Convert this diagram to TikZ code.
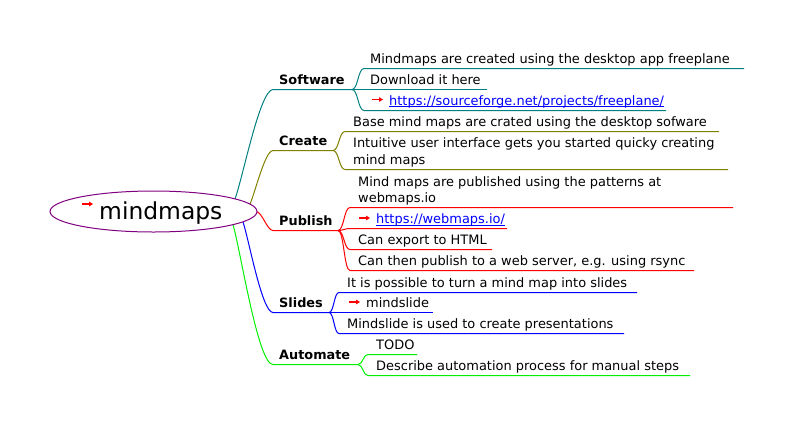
\documentclass[tikz,border=0pt]{standalone}
\usepackage{fontspec}
\setmainfont{DejaVu Sans}
\usetikzlibrary{shapes.geometric,arrows.meta}
\definecolor{cteal}{RGB}{0,128,128}
\definecolor{colive}{RGB}{128,128,0}
\definecolor{cred}{RGB}{255,0,0}
\definecolor{cblue}{RGB}{0,0,255}
\definecolor{cgreen}{RGB}{0,240,0}
\definecolor{cpurple}{RGB}{128,0,128}
\definecolor{linkblue}{RGB}{0,0,255}
\begin{document}
\begin{tikzpicture}[x=1bp,y=-1bp,
  txt/.style={anchor=base west, inner sep=0pt, font=\fontsize{13pt}{16.4pt}\selectfont, text=black, align=left},
  lbl/.style={txt, font=\fontsize{12.9pt}{16.4pt}\selectfont\bfseries},
  linktxt/.style={txt, text=linkblue},
  edge/.style={line width=1bp},
  icon/.style={cred, line width=1.3pt, -{Triangle[length=4pt,width=4.6pt]}},
  linkline/.style={linkblue, line width=0.9bp},
]
\useasboundingbox (0,0) rectangle (793,425);

% ---------- start points on root ----------
\coordinate (r1) at (235,199);
\coordinate (r2) at (250,204);
\coordinate (r3) at (256,211.5);
\coordinate (r4) at (243,222);
\coordinate (r5) at (233,224.6);

% ---------- branch labels ----------
\node[lbl] (sw) at (279,84) {Software};
\coordinate (sw-l) at (273,89.5); \coordinate (sw-r) at (352,89.5);
\node[lbl] (cr) at (279,145) {Create};
\coordinate (cr-l) at (273,150.5); \coordinate (cr-r) at (333,150.5);
\node[lbl] (pu) at (279,225) {Publish};
\coordinate (pu-l) at (273,230.5); \coordinate (pu-r) at (338,230.5);
\node[lbl] (sl) at (279,307) {Slides};
\coordinate (sl-l) at (273,312.5); \coordinate (sl-r) at (329,312.5);
\node[lbl] (au) at (279,359) {Automate};
\coordinate (au-l) at (273,364.5); \coordinate (au-r) at (358,364.5);

% ---------- root edges ----------
\draw[edge,cteal]  (r1) .. controls +(8,-22) and +(-13,0) .. (sw-l) -- (sw-r);
\draw[edge,colive] (r2) .. controls +(5,-11) and +(-8,0) .. (cr-l) -- (cr-r);
\draw[edge,cred]   (r3) .. controls +(6,0) and +(-6,0) .. (pu-l) -- (pu-r);
\draw[edge,cblue]  (r4) .. controls +(6,18) and +(-11,0) .. (sl-l) -- (sl-r);
\draw[edge,cgreen] (r5) .. controls +(8,28) and +(-15,0) .. (au-l) -- (au-r);

% ---------- root ----------
\node[ellipse, draw=cpurple, fill=white, line width=1bp, minimum width=207bp, minimum height=41bp, inner sep=0pt] (root) at (153.5,211.5) {};
\node[anchor=base west, inner sep=0pt, font=\fontsize{23.5pt}{28pt}\selectfont] (roottxt) at (99,219) {mindmaps};
\coordinate (ri-a) at (82,204); \coordinate (ri-b) at (93,204);
\draw[icon] (ri-a) -- (ri-b);

% ---------- Software children ----------
\node[txt] (a1) at (370,63) {Mindmaps are created using the desktop app freeplane};
\coordinate (a1-l) at (364,68.5); \coordinate (a1-r) at (744,68.5);
\node[txt] (a2) at (370,84) {Download it here};
\coordinate (a2-l) at (364,89.5); \coordinate (a2-r) at (487,89.5);
\node[linktxt] (a3) at (389,105) {https://sourceforge.net/projects/freeplane/};
\coordinate (a3-l) at (364,110.5); \coordinate (a3-r) at (666,110.5);
\coordinate (a3-ia) at (372,99.5); \coordinate (a3-ib) at (383,99.5);
\draw[icon] (a3-ia) -- (a3-ib);
\draw[linkline] ([yshift=-1.6pt]a3.base west) -- ([yshift=-1.6pt]a3.base east);
\draw[edge,cteal] (sw-r) .. controls +(6,0) and +(-6,0) .. (a1-l) -- (a1-r);
\draw[edge,cteal] (sw-r) -- (a2-l) -- (a2-r);
\draw[edge,cteal] (sw-r) .. controls +(6,0) and +(-6,0) .. (a3-l) -- (a3-r);

% ---------- Create children ----------
\node[txt] (b1) at (353,126) {Base mind maps are crated using the desktop sofware};
\coordinate (b1-l) at (345,131.5); \coordinate (b1-r) at (719,131.5);
\node[txt] (b2) at (353,164) {Intuitive user interface gets you started quicky creating\\mind maps};
\coordinate (b2-l) at (345,169.5); \coordinate (b2-r) at (728,169.5);
\draw[edge,colive] (cr-r) .. controls +(6,0) and +(-6,0) .. (b1-l) -- (b1-r);
\draw[edge,colive] (cr-r) .. controls +(6,0) and +(-6,0) .. (b2-l) -- (b2-r);

% ---------- Publish children ----------
\node[txt] (c1) at (358,202.5) {Mind maps are published using the patterns at\\webmaps.io};
\coordinate (c1-l) at (350,207.5); \coordinate (c1-r) at (733,207.5);
\node[linktxt] (c2) at (376,223.5) {https://webmaps.io/};
\coordinate (c2-l) at (350,228.5); \coordinate (c2-r) at (507,228.5);
\coordinate (c2-ia) at (359,218); \coordinate (c2-ib) at (370,218);
\draw[icon] (c2-ia) -- (c2-ib);
\draw[linkline] ([yshift=-1.6pt]c2.base west) -- ([yshift=-1.6pt]c2.base east);
\node[txt] (c3) at (358,244.5) {Can export to HTML};
\coordinate (c3-l) at (350,249.5); \coordinate (c3-r) at (492,249.5);
\node[txt] (c4) at (358,265) {Can then publish to a web server, e.g. using rsync};
\coordinate (c4-l) at (350,270.5); \coordinate (c4-r) at (694,270.5);
\draw[edge,cred] (pu-r) .. controls +(6,0) and +(-6,0) .. (c1-l) -- (c1-r);
\draw[edge,cred] (pu-r) .. controls +(6,0) and +(-6,0) .. (c2-l) -- (c2-r);
\draw[edge,cred] (pu-r) .. controls +(6,0) and +(-6,0) .. (c3-l) -- (c3-r);
\draw[edge,cred] (pu-r) .. controls +(6,0) and +(-6,0) .. (c4-l) -- (c4-r);

% ---------- Slides children ----------
\node[txt] (d1) at (347,287) {It is possible to turn a mind map into slides};
\coordinate (d1-l) at (339,292.5); \coordinate (d1-r) at (637,292.5);
\node[txt] (d2) at (366,307) {mindslide};
\coordinate (d2-l) at (339,312.5); \coordinate (d2-r) at (433,312.5);
\coordinate (d2-ia) at (349,302); \coordinate (d2-ib) at (360,302);
\draw[icon] (d2-ia) -- (d2-ib);
\node[txt] (d3) at (347,328) {Mindslide is used to create presentations};
\coordinate (d3-l) at (339,333.5); \coordinate (d3-r) at (624,333.5);
\draw[edge,cblue] (sl-r) .. controls +(5,0) and +(-5,0) .. (d1-l) -- (d1-r);
\draw[edge,cblue] (sl-r) -- (d2-l) -- (d2-r);
\draw[edge,cblue] (sl-r) .. controls +(5,0) and +(-5,0) .. (d3-l) -- (d3-r);

% ---------- Automate children ----------
\node[txt] (e1) at (376,349.5) {TODO};
\coordinate (e1-l) at (368,354.5); \coordinate (e1-r) at (417,354.5);
\node[txt] (e2) at (376,370) {Describe automation process for manual steps};
\coordinate (e2-l) at (368,375.5); \coordinate (e2-r) at (690,375.5);
\draw[edge,cgreen] (au-r) .. controls +(5,0) and +(-5,0) .. (e1-l) -- (e1-r);
\draw[edge,cgreen] (au-r) .. controls +(5,0) and +(-5,0) .. (e2-l) -- (e2-r);
\end{tikzpicture}
\end{document}
